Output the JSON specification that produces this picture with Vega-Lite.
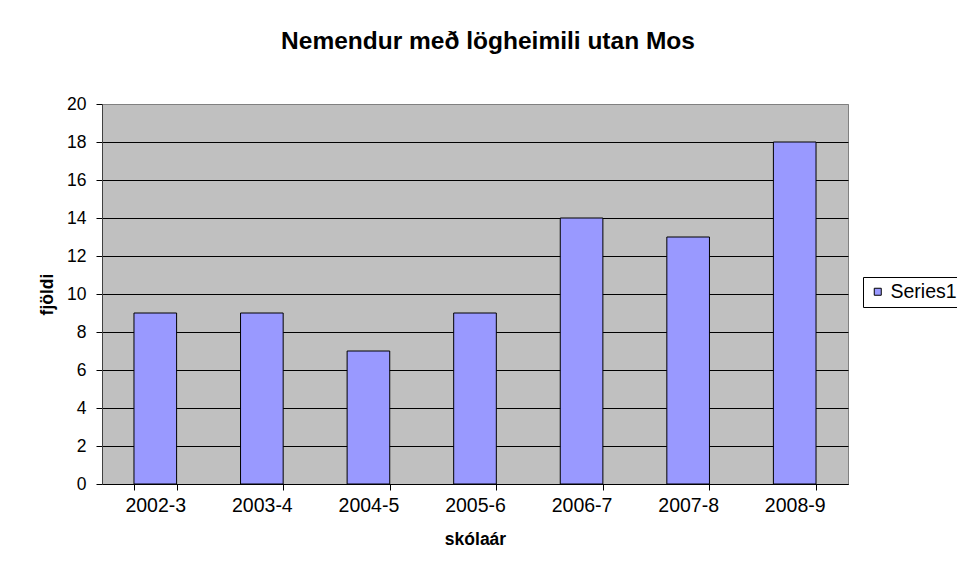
{
  "$schema": "https://vega.github.io/schema/vega-lite/v6.json",
  "autosize": "none",
  "width": 746,
  "height": 380,
  "padding": {"left": 102, "top": 104, "right": 109, "bottom": 92},
  "background": "white",
  "title": {
    "text": "Nemendur með lögheimili utan Mos",
    "font": "Liberation Sans",
    "fontSize": 24.5,
    "fontWeight": "bold",
    "color": "black",
    "anchor": "middle",
    "frame": "group",
    "dx": 13,
    "offset": 41
  },
  "data": {
    "values": [
      {"ar": "2002-3", "fjoldi": 9, "series": "Series1"},
      {"ar": "2003-4", "fjoldi": 9, "series": "Series1"},
      {"ar": "2004-5", "fjoldi": 7, "series": "Series1"},
      {"ar": "2005-6", "fjoldi": 9, "series": "Series1"},
      {"ar": "2006-7", "fjoldi": 14, "series": "Series1"},
      {"ar": "2007-8", "fjoldi": 13, "series": "Series1"},
      {"ar": "2008-9", "fjoldi": 18, "series": "Series1"}
    ]
  },
  "mark": {"type": "bar", "stroke": "black", "strokeWidth": 1},
  "encoding": {
    "x": {
      "field": "ar",
      "type": "nominal",
      "sort": null,
      "title": "skólaár",
      "scale": {"paddingInner": 0.6, "paddingOuter": 0.3},
      "axis": {
        "labelAngle": 0,
        "labelFont": "Liberation Sans",
        "labelFontSize": 19.5,
        "labelColor": "black",
        "labelPadding": 6,
        "tickBand": "extent",
        "tickSize": 6,
        "tickColor": "black",
        "domainColor": "black",
        "titleFont": "Liberation Sans",
        "titleFontSize": 17.5,
        "titleFontWeight": "bold",
        "titleColor": "black",
        "titlePadding": 16,
        "grid": false
      }
    },
    "y": {
      "field": "fjoldi",
      "type": "quantitative",
      "title": "fjöldi",
      "scale": {"domain": [0, 20], "nice": false},
      "axis": {
        "values": [0, 2, 4, 6, 8, 10, 12, 14, 16, 18, 20],
        "labelFont": "Liberation Sans",
        "labelFontSize": 17.5,
        "labelColor": "black",
        "labelPadding": 10,
        "tickSize": 6,
        "tickColor": "black",
        "domainColor": "#404040",
        "grid": true,
        "gridColor": {"condition": {"test": "datum.value == 20", "value": "#808080"}, "value": "black"},
        "gridOpacity": 1,
        "titleFont": "Liberation Sans",
        "titleFontSize": 17.5,
        "titleFontWeight": "bold",
        "titleColor": "black",
        "titlePadding": 10
      }
    },
    "color": {
      "field": "series",
      "type": "nominal",
      "scale": {"range": ["#9999FF"]},
      "legend": {
        "title": null,
        "orient": "none",
        "legendX": 761,
        "legendY": 173,
        "strokeColor": "black",
        "fillColor": "white",
        "padding": 5,
        "symbolType": "square",
        "symbolSize": 49,
        "symbolStrokeColor": "black",
        "symbolStrokeWidth": 1,
        "symbolOpacity": 1,
        "labelFont": "Liberation Sans",
        "labelFontSize": 19.5,
        "labelColor": "black",
        "labelOffset": 3
      }
    }
  },
  "config": {
    "view": {"fill": "#C0C0C0", "stroke": "#808080", "strokeWidth": 1}
  }
}
